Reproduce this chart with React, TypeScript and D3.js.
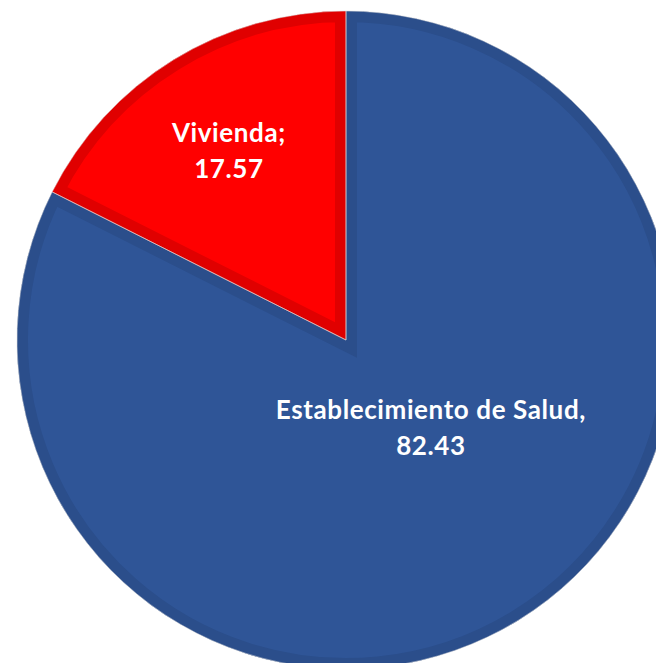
import React, { useEffect, useRef } from "react";
import * as d3 from "d3";

const categories = ["Establecimiento de Salud", "Vivienda"];
const values = [82.43, 17.57];
const separators = [",", ";"];
const fills = ["#2F5597", "#FF0000"];
const bands = ["#2B4E8B", "#E00000"];

const W = 656;
const H = 663;

export default function App() {
  const ref = useRef<SVGSVGElement | null>(null);

  useEffect(() => {
    const svg = d3.select(ref.current);
    svg.selectAll("*").remove();
    const cx = 346;
    const cy = 340;
    const R = 329;

    const data = categories.map((c, i) => ({ c, v: values[i], i }));
    const pie = d3.pie<any>().sort(null).value((d) => d.v);
    const arcs = pie(data);
    const arc = d3.arc<any>().innerRadius(0).outerRadius(R);

    const defs = svg.append("defs");
    const g = svg.append("g").attr("transform", `translate(${cx},${cy})`);

    arcs.forEach((a, k) => {
      const id = `clip${k}`;
      defs.append("clipPath").attr("id", id).append("path").attr("d", arc(a) as string);
      g.append("path").attr("d", arc(a) as string).attr("fill", fills[a.data.i]);
      g.append("path")
        .attr("d", arc(a) as string)
        .attr("fill", "none")
        .attr("stroke", bands[a.data.i])
        .attr("stroke-width", 22)
        .attr("stroke-linejoin", "miter")
        .attr("clip-path", `url(#${id})`);
    });
    arcs.forEach((a) => {
      g.append("path")
        .attr("d", arc(a) as string)
        .attr("fill", "none")
        .attr("stroke", "#d9d9d9")
        .attr("stroke-width", 0.8)
        .attr("stroke-opacity", 0.7);
    });

    // label centre offsets (fraction of radius) and line gap
    const labelPos = [
      [0.258, 0.294],
      [-0.356, -0.547],
    ];
    arcs.forEach((a) => {
      const i = a.data.i;
      const x = labelPos[i][0] * R;
      const y = labelPos[i][1] * R;
      const t = g
        .append("text")
        .attr("text-anchor", "middle")
        .attr("fill", "#FFFFFF")
        .attr("font-family", "Lato, 'Open Sans', sans-serif")
        .attr("font-weight", "bold")
        .attr("font-size", 26)
        .attr("letter-spacing", 0.6);
      t.append("tspan").attr("x", x).attr("y", y - 18).text(a.data.c + separators[i]);
      t.append("tspan").attr("x", x).attr("y", y + 18).text(a.data.v.toFixed(2));
    });
  }, []);

  return (
    <svg
      ref={ref}
      width={W}
      height={H}
      style={{ position: "absolute", left: 0, top: 0, background: "#fff" }}
    />
  );
}
